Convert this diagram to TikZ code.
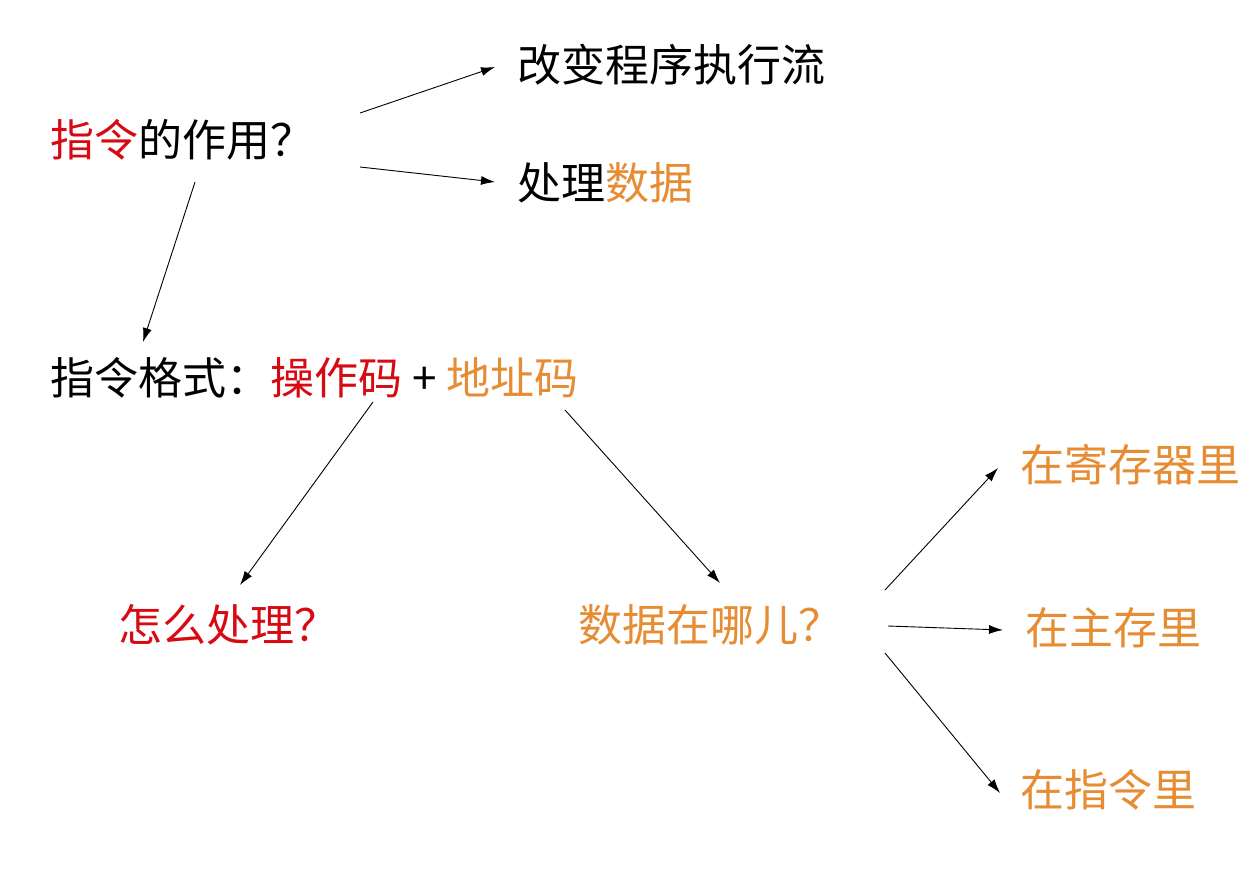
\documentclass[tikz,border=0pt]{standalone}
\usepackage{fontspec}
\usetikzlibrary{arrows.meta}
\setmainfont{Noto Sans CJK SC}
\definecolor{cred}{RGB}{215,10,20}
\definecolor{corg}{RGB}{230,140,50}
\begin{document}
\begin{tikzpicture}[x=1pt,y=-1pt,
  t/.style={anchor=west,inner sep=0pt,font=\fontsize{44}{48}\selectfont},
  a/.style={-{Latex[length=14pt,width=9pt]},line width=0.9pt}]
\useasboundingbox[fill=white] (0,0) rectangle (1256,892);
\node[t] (q) at (50,140) {\textcolor{cred}{指令}的作用？};
\node[t] (c1) at (517,65) {改变程序执行流};
\node[t] (c2) at (517,183) {处理\textcolor{corg}{数据}};
\node[t] (f) at (50,378) {指令格式：\textcolor{cred}{操作码} + \textcolor{corg}{地址码}};
\node[t,text=cred] (h) at (118,625) {怎么处理？};
\node[t,text=corg] (w) at (578,625) {数据在哪儿？};
\node[t,text=corg] (r1) at (1020,465) {在寄存器里};
\node[t,text=corg] (r2) at (1025,628) {在主存里};
\node[t,text=corg] (r3) at (1020,790) {在指令里};
\coordinate (qa) at (360,113); \coordinate (qb) at (360,167); \coordinate (qc) at (195,182);
\coordinate (c1e) at (495,67); \coordinate (c2e) at (495,182); \coordinate (fe) at (143,342);
\coordinate (fa) at (373,402); \coordinate (fb) at (565,410);
\coordinate (he) at (240,585); \coordinate (we) at (720,583);
\coordinate (wa) at (885,590); \coordinate (wb) at (888,626); \coordinate (wc) at (885,653);
\coordinate (r1e) at (998,468); \coordinate (r2e) at (1003,630); \coordinate (r3e) at (1000,793);
\draw[a] (qa) -- (c1e);
\draw[a] (qb) -- (c2e);
\draw[a] (qc) -- (fe);
\draw[a] (fa) -- (he);
\draw[a] (fb) -- (we);
\draw[a] (wa) -- (r1e);
\draw[a] (wb) -- (r2e);
\draw[a] (wc) -- (r3e);
\end{tikzpicture}
\end{document}
